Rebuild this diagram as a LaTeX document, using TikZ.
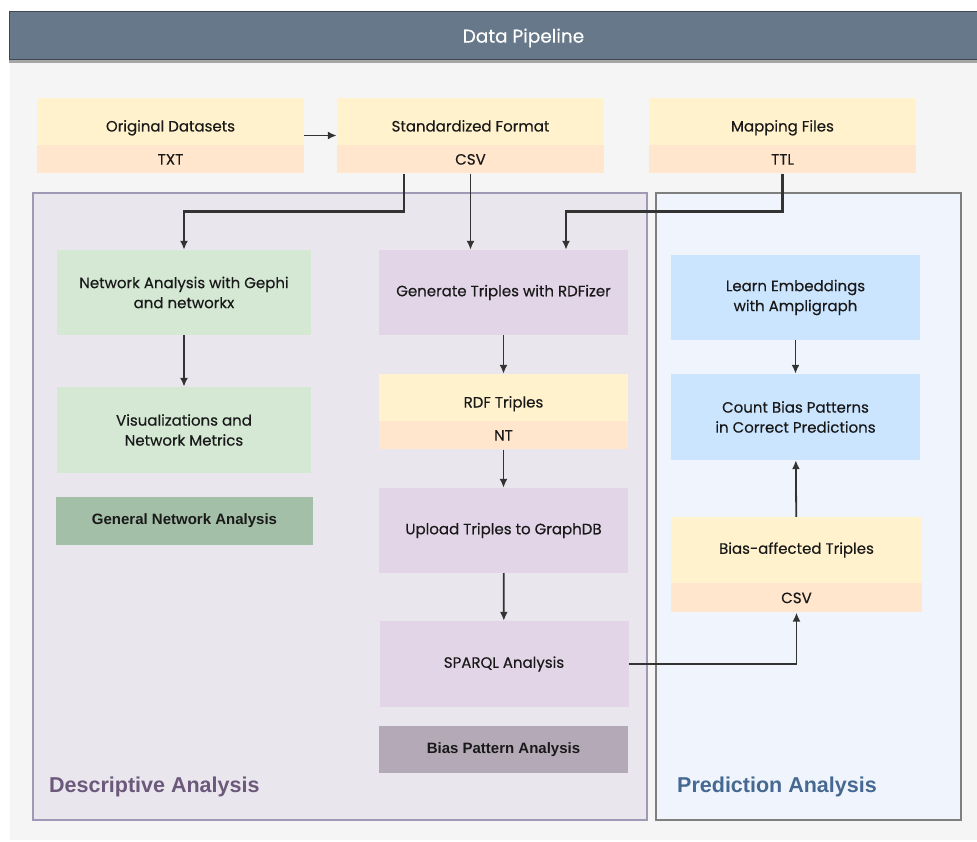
\documentclass[tikz,border=0pt]{standalone}
\usepackage{fontspec}
\setmainfont{Poppins}[FakeBold=0.35]
\newfontfamily\labelfont{Liberation Sans}
\usepackage{xcolor}
\usetikzlibrary{arrows.meta,positioning}

\definecolor{headbg}{HTML}{66788A}
\definecolor{headline}{HTML}{3E4753}
\definecolor{pagebg}{HTML}{F5F5F5}
\definecolor{srcyel}{HTML}{FFF2CC}
\definecolor{srcpeach}{HTML}{FFE6CC}
\definecolor{grnbox}{HTML}{D5E8D4}
\definecolor{grnlbl}{HTML}{A3BFA7}
\definecolor{purbox}{HTML}{E1D5E7}
\definecolor{purlbl}{HTML}{B3A9B7}
\definecolor{blubox}{HTML}{CCE5FF}
\definecolor{descbg}{HTML}{E9E7ED}
\definecolor{descline}{HTML}{9F99B6}
\definecolor{descttl}{HTML}{6B587B}
\definecolor{predbg}{HTML}{F0F5FD}
\definecolor{predline}{HTML}{7F7F7F}
\definecolor{predttl}{HTML}{466991}
\definecolor{arrcol}{HTML}{333333}

\begin{document}
\begin{tikzpicture}[
  x=1pt,y=-1pt,
  node distance=0pt,
  box/.style={inner sep=0pt,align=center,text=black!90,
    font=\fontsize{15}{20}\selectfont,minimum width=249pt,minimum height=85pt},
  srcbox/.style={box,fill=srcyel,minimum width=267pt,minimum height=47pt,
    text height=20pt,text depth=0pt},
  fmtbox/.style={box,fill=srcpeach,minimum width=267pt,minimum height=28pt},
  tagbox/.style={box,font=\labelfont\bfseries\fontsize{15}{18}\selectfont,minimum height=47pt},
  area/.style={line width=1.2pt},
  areattl/.style={anchor=west,inner sep=0pt,font=\labelfont\bfseries\fontsize{21.5}{26}\selectfont},
  arr/.style={-{Latex[length=9pt,width=8pt]},line width=1.8pt,draw=arrcol},
  arrbold/.style={arr,line width=2.4pt}
]
\useasboundingbox (0,0) rectangle (977,842);
\fill[white] (0,0) rectangle (977,842);
\fill[pagebg] (10,60) rectangle (977,840);

% header bar
\fill[black!35] (9,60) rectangle (977,63);
\draw[headline,fill=headbg,line width=1pt] (9,12) rectangle (978,60);
\node[text=white,font=\fontsize{18.5}{22}\selectfont] (title) at (523.5,38) {Data Pipeline};

% analysis areas
\draw[area,draw=descline,fill=descbg] (33,193) rectangle (647,820);
\draw[area,draw=predline,fill=predbg] (656,193) rectangle (961,820);
\node[areattl,text=descttl] (desc) at (49,787) {Descriptive Analysis};
\node[areattl,text=predttl] (pred) at (677,787) {Prediction Analysis};

% input files
\node[srcbox] (orig) at (170.5,121.5) {Original Datasets};
\node[fmtbox,below=of orig] (origfmt) {TXT};
\node[srcbox] (std) at (470.5,121.5) {Standardized Format};
\node[fmtbox,below=of std] (stdfmt) {CSV};
\node[srcbox] (map) at (782.5,121.5) {Mapping Files};
\node[fmtbox,below=of map] (mapfmt) {TTL};

% descriptive: network branch
\node[box,fill=grnbox,minimum width=254pt] (net) at (184,292.5) {Network Analysis with Gephi\\and networkx};
\node[box,fill=grnbox,minimum width=254pt,minimum height=86pt] (vis) at (184,430) {Visualizations and\\Network Metrics};
\node[tagbox,fill=grnlbl,minimum width=257pt,minimum height=48pt] (gna) at (184.5,521) {General Network Analysis};

% descriptive: rdf branch
\node[box,fill=purbox] (gen) at (503.5,292.5) {Generate Triples with RDFizer};
\node[srcbox,minimum width=249pt] (rdf) at (503.5,397.5) {RDF Triples};
\node[fmtbox,minimum width=249pt,below=of rdf] (rdffmt) {NT};
\node[box,fill=purbox] (upl) at (503.5,530.5) {Upload Triples to GraphDB};
\node[box,fill=purbox,minimum height=86pt] (sparql) at (504,664) {SPARQL Analysis};
\node[tagbox,fill=purlbl] (bpa) at (503.5,749.5) {Bias Pattern Analysis};

% prediction
\node[box,fill=blubox] (learn) at (795.5,297.5) {Learn Embeddings\\with Ampligraph};
\node[box,fill=blubox,minimum height=86pt] (count) at (795.5,417) {Count Bias Patterns\\in Correct Predictions};
\node[box,fill=srcyel,minimum width=251pt,minimum height=66pt] (bias) at (796.5,550) {Bias-affected Triples};
\node[fmtbox,minimum width=251pt,minimum height=29pt,below=of bias] (biasfmt) {CSV};

% connectors
\draw[arr] ([yshift=-14pt]orig.east) -- ([yshift=-14pt]std.west);
\draw[arrbold] ([xshift=-66.5pt]stdfmt.south) -- ++(0,38) -| (net.north);
\draw[arr] (stdfmt.south) -- (stdfmt.south |- gen.north);
\draw[arrbold] (mapfmt.south) -- ++(0,38) -| ([xshift=62.5pt]gen.north);
\draw[arr] (net) -- (vis);
\draw[arr] (gen) -- (rdf);
\draw[arr] (rdffmt) -- (upl);
\draw[arr] (upl) -- (sparql);
\draw[arr] (sparql.east) -| (biasfmt.south);
\draw[arr] (bias) -- (count);
\draw[arr] (learn) -- (count);
\end{tikzpicture}
\end{document}
